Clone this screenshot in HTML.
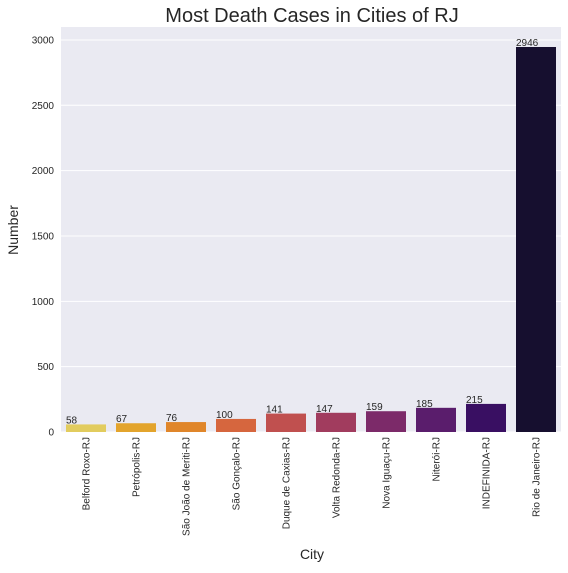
<!DOCTYPE html>
<html><head><meta charset="utf-8"><style>
body{margin:0;background:#fff;}
svg text{font-family:"Liberation Sans",sans-serif;}
</style></head><body>
<svg id="chart" width="568" height="568" xmlns="http://www.w3.org/2000/svg"></svg>
<script>
const categories=["Belford Roxo-RJ","Petrópolis-RJ","São João de Meriti-RJ","São Gonçalo-RJ","Duque de Caxias-RJ","Volta Redonda-RJ","Nova Iguaçu-RJ","Niterói-RJ","INDEFINIDA-RJ","Rio de Janeiro-RJ"];
const deaths=[58,67,76,100,141,147,159,185,215,2946];
const yTicks=[0,500,1000,1500,2000,2500,3000];
const colors=["#e2cc5e","#e3a42c","#e0862a","#d6663e","#c0504f","#a13c5e","#7c2a69","#5a1d6c","#390f62","#160f2f"];
const L=61,R=561,T=27,B=432,yMax=3099;
const svg=document.getElementById('chart');
const NS="http://www.w3.org/2000/svg";
function y(v){return B-(v/yMax)*(B-T);}
const band=(R-L)/categories.length;
function x(i){return L+i*band;}
function mk(tag,attrs,parent){const e=document.createElementNS(NS,tag);for(const k in attrs)e.setAttribute(k,attrs[k]);(parent||svg).appendChild(e);return e;}
const bg=mk('rect',{x:L,y:T,width:R-L,height:B-T,fill:'#eaeaf2'});


yTicks.forEach(t=>{
  const g=mk('line',{x1:L,x2:R,y1:y(t),y2:y(t),stroke:'#fff','stroke-width':1});
  
  
  const tx=mk('text',{x:54,y:y(t)+3.5,'text-anchor':'end','font-size':10,fill:'#262626'});
  tx.textContent=t;
  
  
});
categories.forEach((c,i)=>{
  const bx=x(i)+band*0.1,bw=band*0.8;
  const r=mk('rect',{x:bx,y:y(deaths[i]),width:bw,height:B-y(deaths[i]),fill:colors[i]});
  
  
  const v=mk('text',{x:bx,y:y(deaths[i])-1,'font-size':10,fill:'#262626'});
  v.textContent=deaths[i];
  
  
  const cx=x(i)+band/2;
  const lt=mk('text',{x:0,y:0,'text-anchor':'end','font-size':10,fill:'#262626',transform:`translate(${cx+3.5},437) rotate(-90)`});
  lt.textContent=c;
  
  
});
const title=mk('text',{x:312,y:22,'text-anchor':'middle','font-size':20,fill:'#262626'});
title.textContent='Most Death Cases in Cities of RJ';


const xl=mk('text',{x:312,y:559,'text-anchor':'middle','font-size':14,fill:'#262626'});
xl.textContent='City';


const yl=mk('text',{x:0,y:0,'text-anchor':'middle','font-size':14,fill:'#262626',transform:'translate(18,230) rotate(-90)'});
yl.textContent='Number';


</script>
</body></html>
